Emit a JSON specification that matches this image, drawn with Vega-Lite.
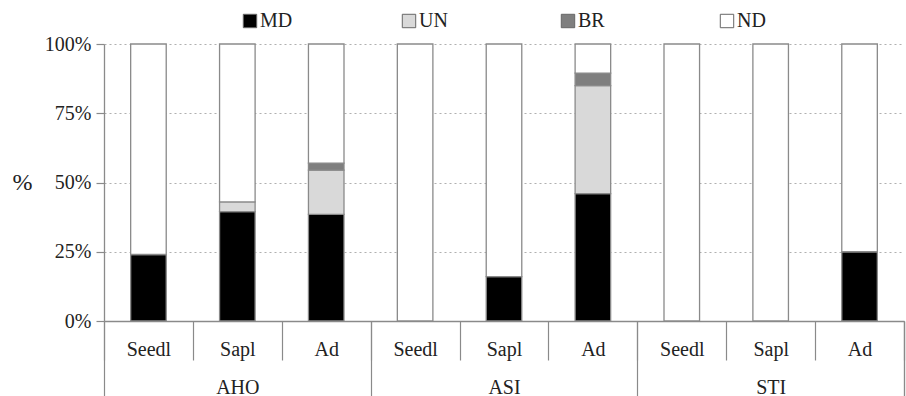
{
  "$schema": "https://vega.github.io/schema/vega-lite/v6.json",
  "width": 800,
  "height": 277,
  "autosize": {"type": "none"},
  "padding": {"left": 104, "top": 44, "right": 2, "bottom": 75},
  "background": "white",
  "config": {
    "view": {"stroke": null},
    "font": "Times New Roman, Liberation Serif, serif",
    "legend": {"labelFont": "Times New Roman, Liberation Serif, serif"},
    "axis": {"labelFont": "Times New Roman, Liberation Serif, serif", "titleFont": "Times New Roman, Liberation Serif, serif"}
  },
  "data": {
    "values": [
      {"group": "AHO", "key": "AHO|Seedl", "cat": "MD", "ord": 1, "value": 24},
      {"group": "AHO", "key": "AHO|Seedl", "cat": "ND", "ord": 4, "value": 76},
      {"group": "AHO", "key": "AHO|Sapl", "cat": "MD", "ord": 1, "value": 39.5},
      {"group": "AHO", "key": "AHO|Sapl", "cat": "UN", "ord": 2, "value": 3.5},
      {"group": "AHO", "key": "AHO|Sapl", "cat": "ND", "ord": 4, "value": 57},
      {"group": "AHO", "key": "AHO|Ad", "cat": "MD", "ord": 1, "value": 38.5},
      {"group": "AHO", "key": "AHO|Ad", "cat": "UN", "ord": 2, "value": 16},
      {"group": "AHO", "key": "AHO|Ad", "cat": "BR", "ord": 3, "value": 2.5},
      {"group": "AHO", "key": "AHO|Ad", "cat": "ND", "ord": 4, "value": 43},
      {"group": "ASI", "key": "ASI|Seedl", "cat": "ND", "ord": 4, "value": 100},
      {"group": "ASI", "key": "ASI|Sapl", "cat": "MD", "ord": 1, "value": 16},
      {"group": "ASI", "key": "ASI|Sapl", "cat": "ND", "ord": 4, "value": 84},
      {"group": "ASI", "key": "ASI|Ad", "cat": "MD", "ord": 1, "value": 46},
      {"group": "ASI", "key": "ASI|Ad", "cat": "UN", "ord": 2, "value": 39},
      {"group": "ASI", "key": "ASI|Ad", "cat": "BR", "ord": 3, "value": 4.5},
      {"group": "ASI", "key": "ASI|Ad", "cat": "ND", "ord": 4, "value": 10.5},
      {"group": "STI", "key": "STI|Seedl", "cat": "ND", "ord": 4, "value": 100},
      {"group": "STI", "key": "STI|Sapl", "cat": "ND", "ord": 4, "value": 100},
      {"group": "STI", "key": "STI|Ad", "cat": "MD", "ord": 1, "value": 25},
      {"group": "STI", "key": "STI|Ad", "cat": "ND", "ord": 4, "value": 75}
    ]
  },
  "resolve": {"scale": {"x": "independent"}, "axis": {"x": "independent"}},
  "layer": [
    {
      "mark": {"type": "bar", "width": {"band": 0.4}, "stroke": "#8a8a8a", "strokeWidth": 1.3},
      "encoding": {
        "x": {
          "field": "key", "type": "nominal", "sort": null,
          "scale": {"paddingInner": 0, "paddingOuter": 0},
          "axis": {
            "orient": "bottom",
            "title": null,
            "labelExpr": "split(datum.value, '|')[1]",
            "labelFontSize": 20,
            "labelColor": "#222",
            "labelAngle": 0,
            "labelBaseline": "alphabetic",
            "labelPadding": -5,
            "tickBand": "extent",
            "tickSize": 39,
            "tickColor": "#8a8a8a",
            "tickWidth": 1.2,
            "domainColor": "#8a8a8a",
            "domainWidth": 1.3
          }
        },
        "y": {
          "field": "value", "type": "quantitative", "stack": "zero",
          "scale": {"domain": [0, 100], "nice": false},
          "axis": {
            "values": [0, 25, 50, 75, 100],
            "labelExpr": "datum.value + '%'",
            "labelFontSize": 20,
            "labelColor": "#222",
            "labelPadding": 5,
            "tickSize": 8,
            "tickColor": "#8a8a8a",
            "tickWidth": 1.2,
            "domainColor": "#8a8a8a",
            "domainWidth": 1.3,
            "grid": true,
            "gridColor": "#b0b0b0",
            "gridDash": [2, 3],
            "gridWidth": 1.2,
            "title": "%",
            "titleFontSize": 24,
            "titleFontWeight": "normal",
            "titleColor": "#222",
            "titleAngle": 0,
            "titleAlign": "center",
            "titleBaseline": "middle",
            "titleX": -82,
            "titleY": 138
          }
        },
        "color": {
          "field": "cat", "type": "nominal",
          "scale": {"domain": ["MD", "UN", "BR", "ND"], "range": ["#000000", "#d9d9d9", "#7f7f7f", "#ffffff"]},
          "legend": {
            "title": null,
            "orient": "none",
            "legendX": 136,
            "legendY": -33,
            "direction": "horizontal",
            "columns": 4,
            "gridAlign": "all",
            "columnPadding": 106,
            "symbolType": "square",
            "symbolSize": 180,
            "symbolStrokeColor": "#666",
            "symbolStrokeWidth": 1,
            "labelFontSize": 20,
            "labelColor": "#222",
            "labelOffset": 0,
            "padding": 0
          }
        },
        "order": {"field": "ord", "type": "quantitative"}
      }
    },
    {
      "mark": {"type": "point", "opacity": 0},
      "encoding": {
        "x": {
          "field": "group", "type": "nominal", "sort": null,
          "scale": {"paddingInner": 0, "paddingOuter": 0},
          "axis": {
            "orient": "bottom",
            "title": null,
            "domain": false,
            "labelFontSize": 20,
            "labelColor": "#222",
            "labelAngle": 0,
            "labelBaseline": "alphabetic",
            "labelPadding": -3,
            "tickBand": "extent",
            "tickSize": 75,
            "tickColor": "#8a8a8a",
            "tickWidth": 1.2
          }
        },
        "y": {"datum": 0, "type": "quantitative"}
      }
    },
    {
      "mark": {"type": "point", "opacity": 0},
      "encoding": {
        "x": {
          "field": "group", "type": "nominal",
          "scale": {"type": "point", "domain": ["end"], "padding": 0, "align": 1},
          "axis": {
            "orient": "bottom",
            "title": null,
            "domain": false,
            "labels": false,
            "values": ["end"],
            "tickSize": 75,
            "tickColor": "#8a8a8a",
            "tickWidth": 1.2
          }
        },
        "y": {"datum": 0, "type": "quantitative"}
      }
    }
  ]
}
